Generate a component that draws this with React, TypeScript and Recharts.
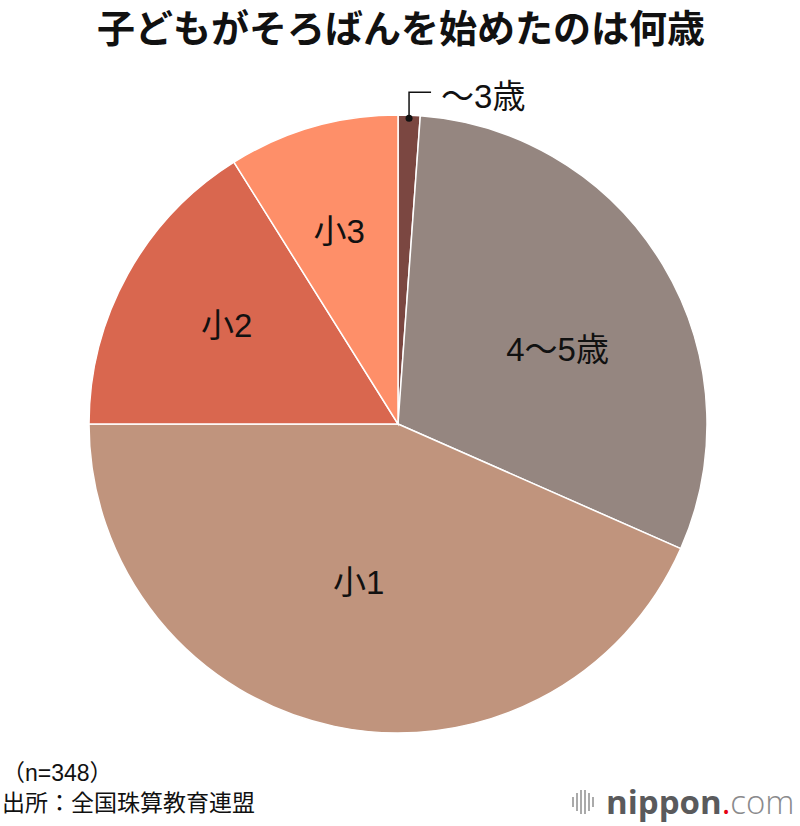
import { Cell, Pie, PieChart } from "recharts";

const categories = ["〜3歳", "4〜5歳", "小1", "小2", "小3"];
const counts = [4, 106, 151, 56, 31];
const colors = ["#7b4741", "#958680", "#c0947d", "#d9674f", "#fe8f69"];

const FONT = "'Liberation Sans', 'Noto Sans CJK JP', sans-serif";
const RAD = Math.PI / 180;
// label distance from centre (share of radius) and angle nudge in degrees
const LABEL_R = [0, 0.57, 0.53, 0.64, 0.65];
const LABEL_SHIFT = [0, -6, -2, -1, 1];

const data = categories.map((name, i) => ({ name, value: counts[i] }));

function SliceLabel(props: any) {
  const { cx, cy, midAngle, outerRadius, index, name } = props;
  if (index === 0) {
    const x = cx + (outerRadius - 3) * Math.cos(-midAngle * RAD);
    const y = cy + (outerRadius - 3) * Math.sin(-midAngle * RAD);
    return (
      <g>
        <circle cx={x} cy={y} r={3.5} fill="#111" />
        <polyline points={`${x},${y} ${x},${y - 26} ${x + 22},${y - 26}`} fill="none" stroke="#111" strokeWidth={1.5} />
        <text x={x + 32} y={y - 22} dominantBaseline="central" fontSize={33} fontFamily={FONT} fill="#111">
          {name}
        </text>
      </g>
    );
  }
  const r = outerRadius * LABEL_R[index];
  const a = (midAngle + LABEL_SHIFT[index]) * RAD;
  const x = cx + r * Math.cos(-a);
  const y = cy + r * Math.sin(-a);
  return (
    <text x={x} y={y} textAnchor="middle" dominantBaseline="central" fontSize={33} fontFamily={FONT} fill="#111">
      {name}
    </text>
  );
}

export default function App() {
  return (
    <div style={{ position: "absolute", left: 0, top: 0, width: 800, height: 826, background: "#fff", fontFamily: FONT }}>
      <div style={{ position: "absolute", top: -2, width: 802, textAlign: "center", fontSize: 38, fontWeight: 700, color: "#111" }}>
        子どもがそろばんを始めたのは何歳
      </div>
      <PieChart width={800} height={826} margin={{ top: 0, right: 0, bottom: 0, left: 0 }}>
        <Pie
          data={data}
          dataKey="value"
          nameKey="name"
          cx={398}
          cy={424}
          outerRadius={309}
          startAngle={90}
          endAngle={-270}
          stroke="#fff"
          strokeWidth={1.5}
          label={SliceLabel}
          labelLine={false}
          isAnimationActive={false}
        >
          {data.map((d, i) => (
            <Cell key={d.name} fill={colors[i]} />
          ))}
        </Pie>
      </PieChart>
      <div style={{ position: "absolute", left: 2, top: 758, fontSize: 23, lineHeight: "30px", color: "#111" }}>
        <div>（n=348）</div>
        <div>出所：全国珠算教育連盟</div>
      </div>
      <div style={{ position: "absolute", left: 570, top: 784, display: "flex", alignItems: "center" }}>
        <svg width={30} height={30}>
          {[0, 1, 2, 3, 4, 5].map((i) => (
            <rect key={i} x={2 + i * 4} y={[10, 6, 3, 3, 6, 10][i]} width={2} height={[10, 18, 24, 24, 18, 10][i]} fill="#aaa" />
          ))}
        </svg>
        <span style={{ fontFamily: "'Open Sans', sans-serif", fontSize: 33, marginLeft: 6, lineHeight: "36px" }}>
          <span style={{ fontWeight: 700, color: "#5a5a5c" }}>nippon</span>
          <span style={{ color: "#e60012" }}>.</span>
          <span style={{ color: "#8a8a8c", fontWeight: 300 }}>com</span>
        </span>
      </div>
    </div>
  );
}
